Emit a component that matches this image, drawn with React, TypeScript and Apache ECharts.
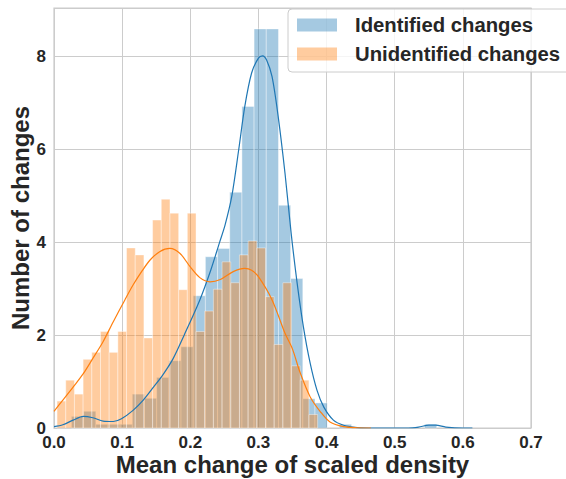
import React, { useEffect, useRef } from "react";
import * as echarts from "echarts";

// ---- Data ----
const xTickLabels = ["0.0", "0.1", "0.2", "0.3", "0.4", "0.5", "0.6", "0.7"];
const yTickLabels = ["0", "2", "4", "6", "8"];

// Identified changes: histogram (density), 30 bins
const identifiedBinStart = 0.0256;
const identifiedBinWidth = 0.01787;
const identifiedHeights = [
  0.25, 0.36, 0.08, 0.08, 0.08, 0.73, 0.64, 1.09, 1.45, 1.75,
  2.85, 3.69, 3.87, 5.08, 6.93, 8.6, 8.6, 4.8, 3.22, 0.63,
  0.54, 0, 0.08, 0, 0, 0, 0, 0, 0, 0.08,
];

// Unidentified changes: histogram (density), 30 bins
const unidentifiedBinStart = 0.0045;
const unidentifiedBinWidth = 0.012745;
const unidentifiedHeights = [
  0.58, 1.03, 0.73, 1.48, 1.63, 2.08, 1.63, 2.08, 3.88, 3.73,
  1.94, 4.48, 4.93, 4.63, 2.98, 4.63, 2.08, 2.52, 2.99, 3.58,
  3.13, 3.73, 4.03, 3.88, 2.83, 1.8, 3.13, 1.34, 1.03, 0.29,
];

// KDE curves (x, density)
const identifiedKdeX = [
  0, 0.013, 0.028, 0.043, 0.057, 0.072, 0.087, 0.099, 0.116, 0.131,
  0.146, 0.16, 0.175, 0.191, 0.214, 0.23, 0.243, 0.251, 0.261, 0.271,
  0.28, 0.29, 0.3, 0.306, 0.312, 0.32, 0.329, 0.339, 0.348, 0.357,
  0.366, 0.376, 0.386, 0.396, 0.41, 0.425, 0.445, 0.47, 0.52, 0.535,
  0.55, 0.56, 0.575, 0.6, 0.614,
];
const identifiedKdeY = [
  0.03, 0.07, 0.17, 0.25, 0.22, 0.15, 0.14, 0.2, 0.38, 0.6,
  0.88, 1.15, 1.5, 2.0, 2.76, 3.4, 4.0, 4.37, 5.0, 5.99,
  6.93, 7.65, 7.97, 8.02, 7.93, 7.57, 6.71, 5.49, 4.2, 3.1,
  2.18, 1.39, 0.81, 0.45, 0.17, 0.06, 0.01, 0.0, 0.0, 0.02,
  0.06, 0.06, 0.02, 0.0, 0.0,
];
const unidentifiedKdeX = [
  0, 0.013, 0.028, 0.043, 0.057, 0.072, 0.087, 0.104, 0.116, 0.13,
  0.141, 0.155, 0.17, 0.185, 0.2, 0.214, 0.229, 0.244, 0.263, 0.28,
  0.29, 0.3, 0.32, 0.339, 0.35, 0.361, 0.376, 0.391, 0.405, 0.425,
  0.445, 0.465,
];
const unidentifiedKdeY = [
  0.36, 0.6, 0.88, 1.17, 1.5, 1.86, 2.29, 2.76, 3.08, 3.4,
  3.62, 3.8, 3.87, 3.76, 3.47, 3.24, 3.15, 3.2, 3.37, 3.44,
  3.4, 3.26, 2.76, 2.04, 1.7, 1.2, 0.67, 0.35, 0.13, 0.03,
  0.005, 0,
];

const FONT = "'Liberation Sans', Arial, sans-serif";
const TEXT = "#262626";
const BLUE = "#1f77b4";
const ORANGE = "#ff7f0e";

function binsOf(start: number, width: number, heights: number[]) {
  return heights.map((h, i) => [start + i * width, start + (i + 1) * width, h]);
}

function barRenderer(color: string) {
  return (_params: any, api: any) => {
    const x0 = api.value(0);
    const x1 = api.value(1);
    const h = api.value(2);
    if (!(h > 0)) return null;
    const tl = api.coord([x0, h]);
    const br = api.coord([x1, 0]);
    return {
      type: "rect",
      shape: { x: tl[0], y: tl[1], width: br[0] - tl[0], height: br[1] - tl[1] },
      style: { fill: color, stroke: "#ffffff", lineWidth: 1, opacity: 0.4 },
    };
  };
}

export default function App() {
  const ref = useRef<HTMLDivElement>(null);
  useEffect(() => {
    if (!ref.current) return;
    const chart = echarts.init(ref.current, undefined, { renderer: "svg" });
    const option: any = {
      animation: false,
      backgroundColor: "#ffffff",
      grid: {
        left: 54,
        right: 35,
        top: 8,
        bottom: 51,
        show: true,
        borderColor: "#cccccc",
        borderWidth: 1.25,
        containLabel: false,
        outerBoundsMode: "none",
      },
      legend: {
        data: [
          { name: "Identified changes", icon: "rect", itemStyle: { color: "rgba(31,119,180,0.4)" } },
          { name: "Unidentified changes", icon: "rect", itemStyle: { color: "rgba(255,127,14,0.4)" } },
        ],
        orient: "vertical",
        left: 288,
        top: 9,
        itemWidth: 40,
        itemHeight: 13,
        itemGap: 9,
        padding: [6, 20, 8, 9],
        backgroundColor: "rgba(255,255,255,0.8)",
        borderColor: "#cccccc",
        borderWidth: 1,
        borderRadius: 4,
        selectedMode: false,
        textStyle: {
          fontSize: 20.3,
          fontWeight: "bold",
          color: TEXT,
          fontFamily: FONT,
          padding: [0, 0, 0, 13],
        },
      },
      xAxis: {
        type: "value",
        min: 0,
        max: 0.7,
        interval: 0.1,
        name: "Mean change of scaled density",
        nameLocation: "middle",
        nameGap: 24,
        nameMoveOverlap: false,
        nameTextStyle: { fontSize: 24, fontWeight: "bold", color: TEXT, fontFamily: FONT },
        axisLine: { show: false },
        axisTick: { show: false },
        axisLabel: {
          fontSize: 17,
          fontWeight: "bold",
          color: TEXT,
          fontFamily: FONT,
          margin: 6,
          formatter: (v: number) => xTickLabels[Math.round(v * 10)] ?? "",
        },
        splitLine: { show: true, lineStyle: { color: "#cccccc", width: 1 } },
      },
      yAxis: {
        type: "value",
        min: 0,
        max: 9.05,
        interval: 2,
        name: "Number of changes",
        nameLocation: "middle",
        nameGap: 22,
        nameMoveOverlap: false,
        nameTextStyle: { fontSize: 24, fontWeight: "bold", color: TEXT, fontFamily: FONT },
        axisLine: { show: false },
        axisTick: { show: false },
        axisLabel: {
          fontSize: 17,
          fontWeight: "bold",
          color: TEXT,
          fontFamily: FONT,
          margin: 8,
          showMaxLabel: false,
          formatter: (v: number) => {
            const i = Math.round(v / 2);
            return Math.abs(v - i * 2) < 1e-6 ? yTickLabels[i] ?? "" : "";
          },
        },
        splitLine: { show: true, lineStyle: { color: "#cccccc", width: 1 } },
      },
      series: [
        {
          name: "Identified changes",
          type: "custom",
          color: BLUE,
          itemStyle: { color: "rgba(31,119,180,0.4)" },
          renderItem: barRenderer(BLUE),
          encode: { x: [0, 1], y: 2 },
          data: binsOf(identifiedBinStart, identifiedBinWidth, identifiedHeights),
        },
        {
          name: "Identified KDE",
          type: "line",
          showSymbol: false,
          smooth: 0.3,
          lineStyle: { color: BLUE, width: 1.2 },
          itemStyle: { color: BLUE },
          data: identifiedKdeX.map((x, i) => [x, identifiedKdeY[i]]),
        },
        {
          name: "Unidentified changes",
          type: "custom",
          color: ORANGE,
          itemStyle: { color: "rgba(255,127,14,0.4)" },
          renderItem: barRenderer(ORANGE),
          encode: { x: [0, 1], y: 2 },
          data: binsOf(unidentifiedBinStart, unidentifiedBinWidth, unidentifiedHeights),
        },
        {
          name: "Unidentified KDE",
          type: "line",
          showSymbol: false,
          smooth: 0.3,
          lineStyle: { color: ORANGE, width: 1.2 },
          itemStyle: { color: ORANGE },
          data: unidentifiedKdeX.map((x, i) => [x, unidentifiedKdeY[i]]),
        },
      ],
    };
    chart.setOption(option);
    return () => chart.dispose();
  }, []);
  return (
    <div
      ref={ref}
      style={{ position: "fixed", left: 0, top: 0, width: 566, height: 479 }}
    />
  );
}
